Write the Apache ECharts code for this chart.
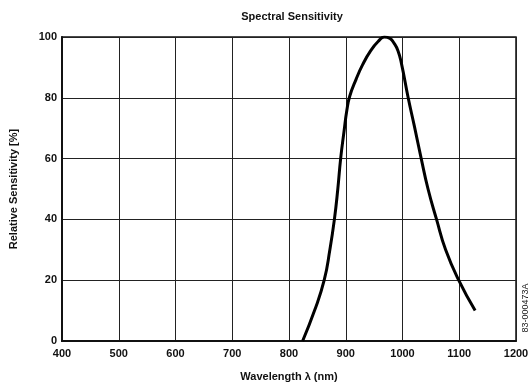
<!DOCTYPE html>
<html><head><meta charset="utf-8">
<script src="https://cdn.jsdelivr.net/npm/echarts@6/dist/echarts.min.js"></script>
<style>html,body{margin:0;padding:0;background:#fff}#c{width:532px;height:387px}</style>
</head><body><div id="c"></div>
<script>
var title = "Spectral Sensitivity";
var xName = "Wavelength \u03bb (nm)";
var yName = "Relative Sensitivity [%]";
var docCode = "83-000473A";
var wavelengths = [824, 845, 862, 872, 880, 886, 891, 897, 902, 907, 918, 930, 944, 957, 968, 978, 985, 992, 998, 1010, 1021, 1033, 1045, 1060, 1076, 1099, 1128];
var sensitivity = [0, 10, 20, 30, 40, 50, 60, 69, 76, 80.5, 86, 91, 95.5, 98.5, 100, 99.5, 98, 95.5, 91.4, 80, 70.6, 60, 50, 40, 30, 20, 10];

var pts = wavelengths.map(function (w, i) { return [w, sensitivity[i]]; });
var font = "'Liberation Sans', Arial, sans-serif";
var chart = echarts.init(document.getElementById('c'), null, {renderer: 'canvas'});
chart.setOption({
  animation: false,
  backgroundColor: '#fff',
  title: {text: title, left: 287, top: 6, textAlign: 'center',
    textStyle: {fontFamily: font, fontSize: 11, fontWeight: 'bold', color: '#111'}},
  grid: {left: 57, right: 16, top: 37, bottom: 46, show: true, borderColor: '#111', borderWidth: 1.5, backgroundColor: 'transparent'},
  xAxis: {type: 'value', min: 400, max: 1200, interval: 100,
    name: xName, nameLocation: 'middle', nameGap: 30,
    nameTextStyle: {fontFamily: font, fontSize: 11, fontWeight: 'bold', color: '#111'},
    axisLine: {show: true, lineStyle: {color: '#111', width: 2}},
    axisTick: {show: false},
    axisLabel: {fontFamily: font, fontSize: 11, fontWeight: 'bold', color: '#111', margin: 7,
      formatter: function (v) { return String(v); }},
    splitLine: {show: true, lineStyle: {color: '#222', width: 1}}},
  yAxis: {type: 'value', min: 0, max: 100, interval: 20,
    name: yName, nameLocation: 'middle', nameGap: 43,
    nameTextStyle: {fontFamily: font, fontSize: 11, fontWeight: 'bold', color: '#111'},
    axisLine: {show: true, lineStyle: {color: '#111', width: 2}},
    axisTick: {show: false},
    axisLabel: {fontFamily: font, fontSize: 11, fontWeight: 'bold', color: '#111', margin: 5},
    splitLine: {show: true, lineStyle: {color: '#222', width: 1}}},
  series: [{type: 'line', data: pts, smooth: 0.5, showSymbol: false,
    lineStyle: {color: '#000', width: 3}}],
  graphic: [{type: 'text', x: 526, y: 308, rotation: Math.PI / 2,
    style: {text: docCode, fontFamily: font, fontSize: 9, fill: '#222', align: 'center', verticalAlign: 'middle'}}]
});
</script></body></html>
